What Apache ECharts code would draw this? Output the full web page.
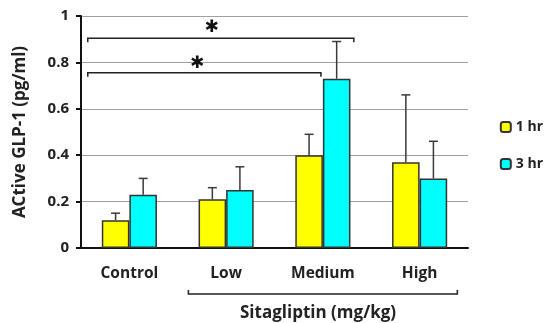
<!DOCTYPE html>
<html><head><meta charset="utf-8">
<script src="https://cdn.jsdelivr.net/npm/echarts@6/dist/echarts.min.js"></script>
<style>html,body{margin:0;padding:0;background:#fff}#c{width:554px;height:323px}</style>
</head><body><div id="c"></div>
<script>
var categories = ['Control', 'Low', 'Medium', 'High'];
var hr1 = [0.12, 0.21, 0.40, 0.37];
var hr1Err = [0.15, 0.26, 0.49, 0.66];
var hr3 = [0.23, 0.25, 0.73, 0.30];
var hr3Err = [0.30, 0.35, 0.89, 0.46];
var yTicks = [0, 0.2, 0.4, 0.6, 0.8, 1];
// significance brackets: [xStart, xEnd, y] in category units
var sigBrackets = [[-0.43, 2.32, 0.904], [-0.43, 1.98, 0.755]];
var sigStars = [[0.85, 0.948], [0.70, 0.797]];
var groupBracket = [0.61, 3.39, -0.198];
var groupLabel = 'Sitagliptin (mg/kg)';

var FONT = 'Open Sans';
var chart = echarts.init(document.getElementById('c'));
var half = 0.1425;
function errItem(vals, errs, off) {
  return vals.map(function (v, i) { return [i + off, v, errs[i]]; });
}
function renderErr(params, api) {
  var p0 = api.coord([api.value(0), api.value(1)]);
  var p1 = api.coord([api.value(0), api.value(2)]);
  var cw = 4.5;
  return { type: 'group', children: [
    { type: 'line', shape: { x1: p0[0], y1: p0[1], x2: p1[0], y2: p1[1] }, style: { stroke: '#3a3a3a', lineWidth: 1.5 } },
    { type: 'line', shape: { x1: p1[0] - cw, y1: p1[1], x2: p1[0] + cw, y2: p1[1] }, style: { stroke: '#3a3a3a', lineWidth: 1.5 } }
  ]};
}
var annData = [];
sigBrackets.forEach(function (b) { annData.push({ value: [b[0], b[2], b[1]], kind: 'sig' }); });
sigStars.forEach(function (s) { annData.push({ value: [s[0], s[1], 0], kind: 'star' }); });
annData.push({ value: [groupBracket[0], groupBracket[2], groupBracket[1]], kind: 'group' });
annData.push({ value: [1.95, -0.28, 0], kind: 'label' });

function renderAnn(params, api) {
  var d = annData[params.dataIndex];
  var v = d.value;
  var a = api.coord([v[0], v[1]]);
  var st = { stroke: '#222', lineWidth: 1.5, fill: null };
  if (d.kind === 'sig' || d.kind === 'group') {
    var b = api.coord([v[2], v[1]]);
    var t = d.kind === 'sig' ? 4 : -4;
    return { type: 'polyline', shape: { points: [[a[0], a[1] + t], [a[0], a[1]], [b[0], b[1]], [b[0], b[1] + t]] }, style: st };
  }
  if (d.kind === 'star') {
    return { type: 'text', x: a[0], y: a[1], style: { text: '✱', fill: '#111', font: 'bold 17px DejaVu Sans', align: 'center', verticalAlign: 'middle' } };
  }
  return { type: 'text', x: a[0], y: a[1], style: { text: groupLabel, fill: '#222', font: 'bold 17px ' + FONT, align: 'center', verticalAlign: 'middle' } };
}

chart.setOption({
  animation: false,
  grid: { left: 81, right: 86, top: 16, bottom: 75 },
  legend: {
    orient: 'vertical', right: 6, top: 115, itemWidth: 10, itemHeight: 10, itemGap: 23,
    textStyle: { fontFamily: FONT, fontWeight: 'bold', fontSize: 14, color: '#222' },
    data: ['1 hr', '3 hr']
  },
  xAxis: [{
    type: 'category', data: categories,
    axisLine: { lineStyle: { color: '#111', width: 2 } },
    axisTick: { length: 5, lineStyle: { color: '#111', width: 2 } },
    axisLabel: { margin: 18, fontFamily: FONT, fontWeight: 'bold', fontSize: 15.5, color: '#222' }
  }, {
    type: 'value', min: -0.5, max: 3.5, show: false
  }],
  yAxis: {
    type: 'value', min: 0, max: 1, interval: 0.2,
    name: 'ACtive GLP-1 (pg/ml)', nameLocation: 'middle', nameGap: 52, nameRotate: 90,
    nameTextStyle: { fontFamily: FONT, fontWeight: 'bold', fontSize: 17, color: '#222' },
    axisLine: { show: true, onZero: false, lineStyle: { color: '#111', width: 2 } },
    axisTick: { show: true, length: 5, lineStyle: { color: '#111', width: 2 } },
    axisLabel: { margin: 12, fontFamily: FONT, fontWeight: 'bold', fontSize: 15, color: '#222',
      formatter: function (v) { return yTicks.indexOf(Math.round(v * 10) / 10) >= 0 ? String(Math.round(v * 10) / 10) : ''; } },
    splitLine: { lineStyle: { color: '#a0a0a0', width: 1 } }
  },
  series: [
    { name: '1 hr', type: 'bar', data: hr1, barGap: '0%', barCategoryGap: '43%',
      itemStyle: { color: '#ffff00', borderColor: '#333', borderWidth: 1.5 } },
    { name: '3 hr', type: 'bar', data: hr3,
      itemStyle: { color: '#00ffff', borderColor: '#333', borderWidth: 1.5 } },
    { type: 'custom', xAxisIndex: 1, data: errItem(hr1, hr1Err, -half), renderItem: renderErr, z: 1 },
    { type: 'custom', xAxisIndex: 1, data: errItem(hr3, hr3Err, half), renderItem: renderErr, z: 1 },
    { type: 'custom', xAxisIndex: 1, clip: false, data: annData.map(function (d) { return d.value; }), renderItem: renderAnn, z: 5 }
  ]
});
</script></body></html>
